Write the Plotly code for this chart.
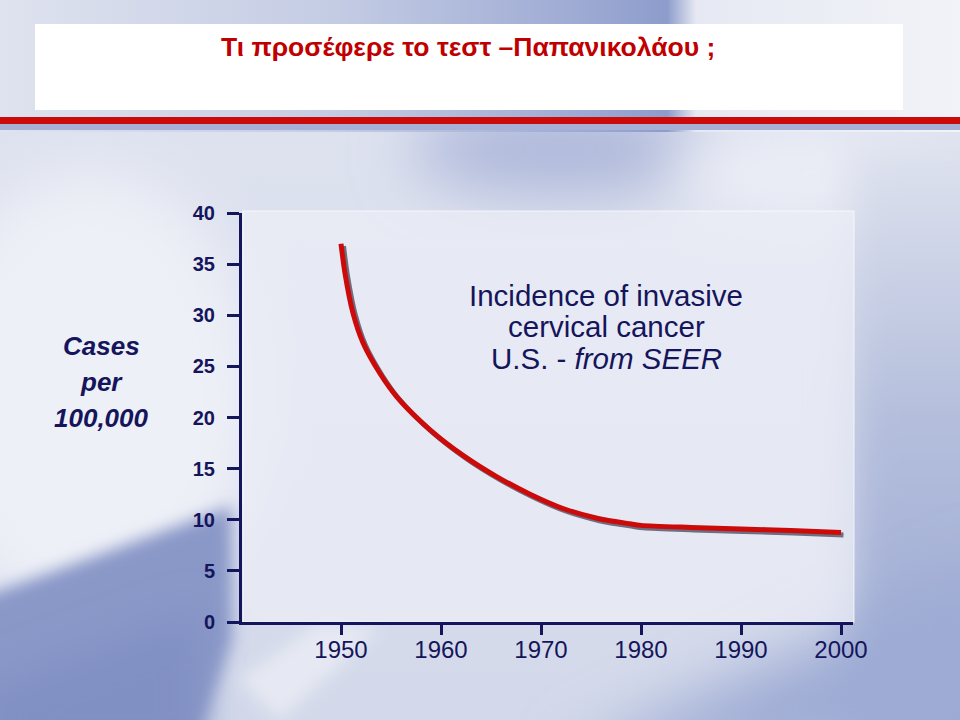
import base64
import plotly.graph_objects as go

# ---------------- data ----------------
years = [1950, 1950.4, 1951.2, 1952.2, 1953.9, 1955.6, 1958.9, 1962.2, 1965.6,
         1968.9, 1972.2, 1975.6, 1978.9, 1980, 1985, 1990, 1995, 2000]
incidence = [37.0, 34.1, 30.2, 27.3, 24.3, 22.0, 18.8, 16.3, 14.2,
             12.5, 11.1, 10.15, 9.6, 9.45, 9.25, 9.1, 8.95, 8.75]
x_ticks = [1950, 1960, 1970, 1980, 1990, 2000]
y_ticks = [0, 5, 10, 15, 20, 25, 30, 35, 40]

title_text = "Τι προσέφερε το τεστ –Παπανικολάου ;"
ytitle_lines = ["Cases", "per", "100,000"]
note_lines = ["Incidence of invasive", "cervical cancer", "U.S. - <i>from SEER</i>"]

# ---------------- layout geometry ----------------
W_FIG, H_FIG = 960, 720
L, R, T, B = 242, 107, 213, 98
PW, PH = W_FIG - L - R, H_FIG - T - B
X_RANGE = [1940.1, 2001.2]
Y_RANGE = [0, 40]
NAVY = "#15155c"
RED = "#cc0a0a"
SANS = "Liberation Sans, Arial, sans-serif"


def px(x):
    return (x - L) / PW


def py(y):
    return (H_FIG - B - y) / PH


# shadow offset in pixels -> data units
sdx = 2.5 * (X_RANGE[1] - X_RANGE[0]) / PW
sdy = 2.5 * (Y_RANGE[1] - Y_RANGE[0]) / PH

# ---------------- background (gradient slide) ----------------
svg = f"""<svg xmlns='http://www.w3.org/2000/svg' width='960' height='720' viewBox='0 0 960 720'>
<defs>
<filter id='b30' x='-50%' y='-50%' width='200%' height='200%'><feGaussianBlur stdDeviation='30'/></filter>
<filter id='b20' x='-50%' y='-50%' width='200%' height='200%'><feGaussianBlur stdDeviation='20'/></filter>
<filter id='b8' x='-50%' y='-50%' width='200%' height='200%'><feGaussianBlur stdDeviation='8'/></filter>
<linearGradient id='base' x1='0' x2='0' y1='0' y2='1'>
<stop offset='0' stop-color='#e0e4f0'/>
<stop offset='1' stop-color='#d3d9ea'/>
</linearGradient>
<linearGradient id='top' x1='0' x2='1' y1='0' y2='0'>
<stop offset='0' stop-color='#dfe3ef'/>
<stop offset='0.35' stop-color='#c4cce4'/>
<stop offset='0.62' stop-color='#9ba8d2'/>
<stop offset='0.695' stop-color='#8d9ccb'/>
<stop offset='0.725' stop-color='#e6e9f3'/>
<stop offset='1' stop-color='#f2f3f8'/>
</linearGradient>
<linearGradient id='rightv' x1='0' x2='0' y1='0' y2='1'>
<stop offset='0' stop-color='#dfe3ef'/>
<stop offset='0.45' stop-color='#b4bedc'/>
<stop offset='1' stop-color='#97a5d1'/>
</linearGradient>
</defs>
<rect width='960' height='720' fill='url(#base)'/>
<ellipse cx='90' cy='400' rx='170' ry='230' fill='#eef0f7' filter='url(#b30)'/>
<ellipse cx='560' cy='150' rx='150' ry='45' fill='#aeb8da' filter='url(#b30)'/>
<ellipse cx='820' cy='175' rx='150' ry='45' fill='#eceef6' filter='url(#b30)'/>
<rect x='850' y='140' width='160' height='620' fill='url(#rightv)' filter='url(#b20)'/>
<polygon points='560,760 1000,560 1000,760' fill='#9eabd4' filter='url(#b30)'/>
<polygon points='-20,598 232,506 232,640 190,760 -20,760' fill='#8a98c8' filter='url(#b8)'/>
<polygon points='-20,690 200,610 200,760 -20,760' fill='#8190c3' filter='url(#b20)'/>
<polygon points='240,680 320,622 380,628 280,720' fill='#e6e9f3' filter='url(#b8)'/>
<rect x='0' y='0' width='960' height='132' fill='url(#top)'/>
<rect x='35' y='24' width='868' height='86' fill='#ffffff'/>
<rect x='0' y='124' width='960' height='6' fill='#a6afd6'/>
<rect x='0' y='117' width='960' height='7' fill='{RED}'/>
<rect x='243' y='211' width='611' height='411' fill='#eceef6' fill-opacity='0.7' stroke='#ffffff' stroke-opacity='0.6' stroke-width='1.2'/>
</svg>"""
svg_uri = "data:image/svg+xml;base64," + base64.b64encode(svg.encode("utf-8")).decode("ascii")

fig = go.Figure()

# placeholder on the base axes so that the visible axes are drawn
fig.add_trace(go.Scatter(x=[], y=[], mode="lines", xaxis="x", yaxis="y",
                         hoverinfo="skip", showlegend=False))
# shadow of the curve (same data, drawn on an offset overlay axis)
fig.add_trace(go.Scatter(
    x=years, y=incidence, mode="lines", xaxis="x2", yaxis="y2",
    line=dict(color="#6d6f80", width=5, shape="spline", smoothing=0.8),
    hoverinfo="skip", showlegend=False))
# main red curve
fig.add_trace(go.Scatter(
    x=years, y=incidence, mode="lines", xaxis="x3", yaxis="y3",
    line=dict(color=RED, width=5, shape="spline", smoothing=0.8),
    showlegend=False, name="Incidence"))

annotations = [
    dict(text=title_text, x=px(468), y=py(47), xref="paper", yref="paper",
         showarrow=False, xanchor="center", yanchor="middle",
         font=dict(family=SANS, size=26.5, color="#c00000", weight="bold")),
]
for i, t in enumerate(ytitle_lines):
    annotations.append(dict(
        text=f"<b><i>{t}</i></b>", x=px(101), y=py(346 + 36 * i),
        xref="paper", yref="paper", showarrow=False,
        xanchor="center", yanchor="middle",
        font=dict(family=SANS, size=26, color=NAVY)))
for i, t in enumerate(note_lines):
    annotations.append(dict(
        text=t, x=px(606), y=py(295 + 31.5 * i),
        xref="paper", yref="paper", showarrow=False,
        xanchor="center", yanchor="middle",
        font=dict(family=SANS, size=29.5, color=NAVY)))

fig.update_layout(
    width=W_FIG, height=H_FIG,
    margin=dict(l=L, r=R, t=T, b=B, pad=0),
    paper_bgcolor="#d6dbeb", plot_bgcolor="rgba(0,0,0,0)",
    showlegend=False,
    images=[dict(source=svg_uri, xref="paper", yref="paper",
                 x=-L / PW, y=1 + T / PH, sizex=W_FIG / PW, sizey=H_FIG / PH,
                 xanchor="left", yanchor="top", sizing="stretch", layer="below")],
    xaxis=dict(range=X_RANGE, tickvals=x_ticks, ticktext=[str(v) for v in x_ticks],
               showgrid=False, zeroline=False, showline=True, linecolor=NAVY,
               linewidth=3, ticks="outside", ticklen=10, tickwidth=2.5,
               tickcolor=NAVY, ticklabelstandoff=-6,
               tickfont=dict(family=SANS, size=24, color=NAVY)),
    yaxis=dict(range=Y_RANGE, tickvals=y_ticks, ticktext=[str(v) for v in y_ticks],
               showgrid=False, zeroline=False, showline=True, linecolor=NAVY,
               linewidth=3, ticks="outside", ticklen=12, tickwidth=2.5,
               tickcolor=NAVY, ticklabelstandoff=8,
               tickfont=dict(family=SANS, size=20, color=NAVY, weight="bold")),
    xaxis2=dict(range=[X_RANGE[0] - sdx, X_RANGE[1] - sdx], overlaying="x",
                visible=False, showgrid=False, zeroline=False),
    yaxis2=dict(range=[Y_RANGE[0] + sdy, Y_RANGE[1] + sdy], overlaying="y",
                visible=False, showgrid=False, zeroline=False),
    xaxis3=dict(range=X_RANGE, overlaying="x", visible=False,
                showgrid=False, zeroline=False),
    yaxis3=dict(range=Y_RANGE, overlaying="y", visible=False,
                showgrid=False, zeroline=False),
    annotations=annotations,
)

fig.write_html("out.html")
